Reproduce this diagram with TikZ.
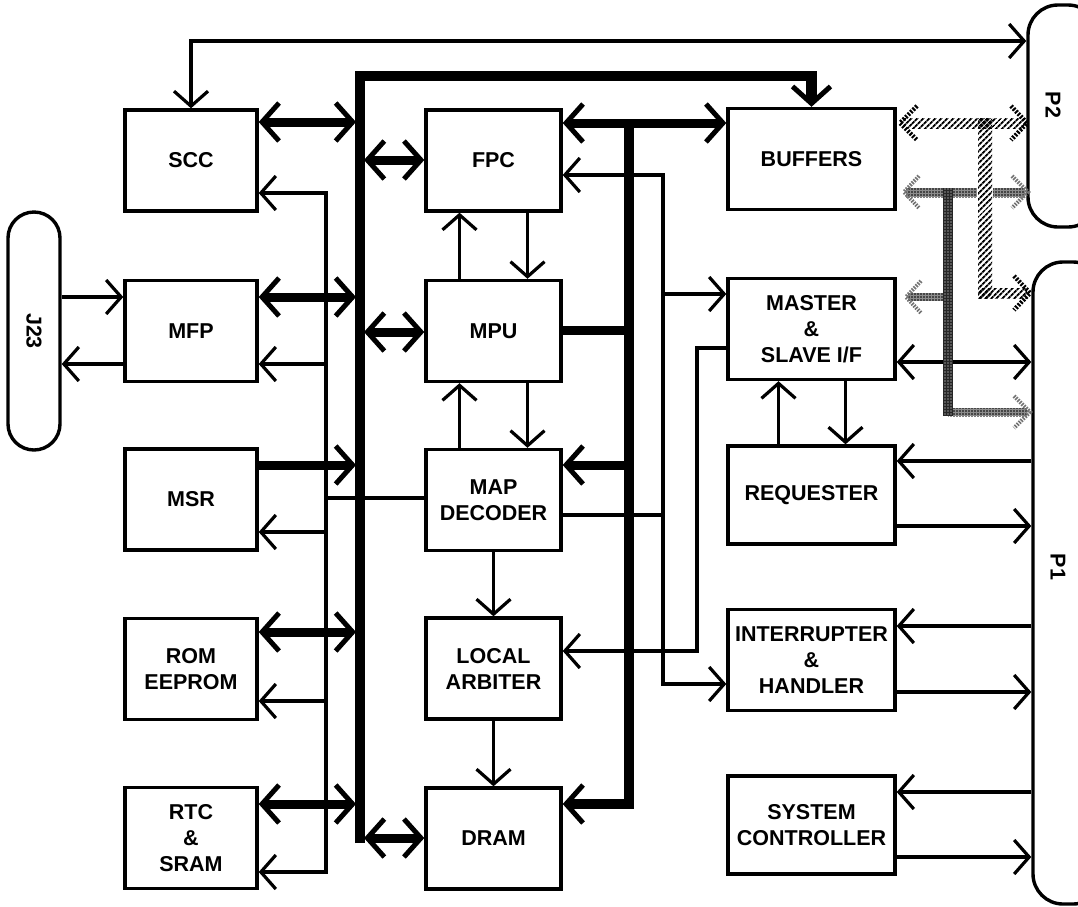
\documentclass[tikz,border=0pt]{standalone}
\usepackage{fontspec}
\setmainfont{Liberation Sans}
\usetikzlibrary{arrows.meta,patterns.meta}
\begin{document}
\begin{tikzpicture}[x=1pt,y=-1pt,
  txt/.style={font=\fontsize{21.5}{26}\selectfont\bfseries},
  box/.style={txt,draw,line width=3.4pt,minimum width=132pt,minimum height=101pt,align=center,inner sep=0pt},
  cbox/.style={box,minimum width=135pt},
  rbox/.style={box,minimum width=167pt},
  conn/.style={draw,line width=3.4pt,rounded corners=26pt},
  lab/.style={txt,rotate=-90},
  th/.style={line width=3.2pt,>={Straight Barb[length=15pt,width=34pt]}},
  tk/.style={line width=9pt,>={Straight Barb[length=17pt,width=38pt,line width=5pt]}},
  bus/.style={line width=10.5pt,>={Straight Barb[length=17pt,width=38pt,line width=5pt]}},
  hatch/.style={pattern={Lines[angle=45,distance=4pt,line width=2pt]}},
  hw/.style={line width=4.5pt,dash pattern=on 2pt off 1.5pt},
  stipv/.style={fill=black!85,postaction={pattern={Dots[distance=3pt,radius=0.7pt]},pattern color=white}},
  stiph/.style={fill=black!45,postaction={pattern={Dots[distance=3pt,radius=0.9pt]},pattern color=black}},
  sw/.style={line width=4pt,black!55,dash pattern=on 1.6pt off 1.2pt}]
\useasboundingbox (0,0) rectangle (1078,906);
\clip (0,0) rectangle (1078,906);

% left column
\node[box] (scc) at (191,160.5) {SCC};
\node[box] (mfp) at (191,331) {MFP};
\node[box] (msr) at (191,499.5) {MSR};
\node[box] (rom) at (191,669) {ROM\\EEPROM};
\node[box] (rtc) at (191,838) {RTC\\\&\\SRAM};
% centre column
\node[cbox] (fpc) at (493.5,160.5) {FPC};
\node[cbox] (mpu) at (493.5,331) {MPU};
\node[cbox] (map) at (493.5,500) {MAP\\DECODER};
\node[cbox] (loc) at (493.5,668.5) {LOCAL\\ARBITER};
\node[cbox] (dram) at (493.5,838.5) {DRAM};
% right column
\node[rbox] (buf) at (811.5,159) {BUFFERS};
\node[rbox] (mas) at (811.5,329) {MASTER\\\&\\SLAVE I/F};
\node[rbox,minimum height=98pt] (req) at (811.5,495) {REQUESTER};
\node[rbox] (int) at (811.5,660) {INTERRUPTER\\\&\\HANDLER};
\node[rbox,minimum height=98pt] (sys) at (811.5,825) {SYSTEM\\CONTROLLER};
% connectors
\node[conn,minimum width=52pt,minimum height=238pt] (j23) at (34,331) {};
\node[lab] (j23l) at (34,331) {J23};
\node[conn,rounded corners=30pt,minimum width=70pt,minimum height=222pt] (p2) at (1063,116) {};
\node[lab] (p2l) at (1053,105) {P2};
\node[conn,rounded corners=30pt,minimum width=70pt,minimum height=642pt] (p1) at (1068,583) {};
\node[lab] (p1l) at (1058,567) {P1};

% top thin line SCC - P2
\draw[th,<->] (scc.north) |- (p2.west |- 0,41);
% J23 - MFP
\draw[th,->] (j23.east |- 0,297) -- (mfp.west |- 0,297);
\draw[th,->] (mfp.west |- 0,364) -- (j23.east |- 0,364);
% left control line
\draw[th,<->] (scc.east |- 0,193) -| (326,872) -- (rtc.east |- 0,872);
\draw[th,->] (326,364) -- (mfp.east |- 0,364);
\draw[th,->] (326,532) -- (msr.east |- 0,532);
\draw[th,->] (326,701) -- (rom.east |- 0,701);
\draw[th] (326,498) -- (map.west |- 0,498);

% main bus
\draw[bus,->] (360,843) -- (360,76) -- (buf.north |- 0,76) -- (buf.north);
\draw[tk,<->] (scc.east |- 0,122) -- (356,122);
\draw[tk,<->] (mfp.east |- 0,297) -- (356,297);
\draw[tk,->] (msr.east |- 0,465) -- (356,465);
\draw[tk,<->] (rom.east |- 0,632) -- (356,632);
\draw[tk,<->] (rtc.east |- 0,804) -- (356,804);
\draw[tk,<->] (364,160) -- (fpc.west |- 0,160);
\draw[tk,<->] (364,332) -- (mpu.west |- 0,332);
\draw[tk,<->] (364,838) -- (dram.west |- 0,838);

% centre vertical arrows
\draw[th,->] ([xshift=-34pt]mpu.north) -- ([xshift=-34pt]fpc.south);
\draw[th,->] ([xshift=34pt]fpc.south) -- ([xshift=34pt]mpu.north);
\draw[th,->] ([xshift=-34pt]map.north) -- ([xshift=-34pt]mpu.south);
\draw[th,->] ([xshift=34pt]mpu.south) -- ([xshift=34pt]map.north);
\draw[th,->] (map.south) -- (loc.north);
\draw[th,->] (loc.south) -- (dram.north);

% second bus
\draw[tk,<->] (fpc.east |- 0,123) -- (buf.west |- 0,123);
\draw[bus,->] (629,119) -- (629,804) -- (dram.east |- 0,804);
\draw[tk] (mpu.east |- 0,330) -- (629,330);
\draw[tk,->] (629,465) -- (map.east |- 0,465);

% thin right lines
\draw[th,<->] (fpc.east |- 0,175) -| (663,684) -- (int.west |- 0,684);
\draw[th,->] (663,294) -- (mas.west |- 0,294);
\draw[th] (map.east |- 0,515) -- (663,515);
\draw[th,->] (mas.west |- 0,348) -| (697,651) -- (loc.east |- 0,651);

% right column arrows
\draw[th,->] ([xshift=-33pt]req.north) -- ([xshift=-33pt]mas.south);
\draw[th,->] ([xshift=34pt]mas.south) -- ([xshift=34pt]req.north);
\draw[th,<->] (mas.east |- 0,362) -- (p1.west |- 0,362);
\draw[th,->] (p1.west |- 0,461) -- (req.east |- 0,461);
\draw[th,->] (req.east |- 0,526) -- (p1.west |- 0,526);
\draw[th,->] (p1.west |- 0,626) -- (int.east |- 0,626);
\draw[th,->] (int.east |- 0,692) -- (p1.west |- 0,692);
\draw[th,->] (p1.west |- 0,792) -- (sys.east |- 0,792);
\draw[th,->] (sys.east |- 0,857) -- (p1.west |- 0,857);

% stippled bus
\fill[stiph] (906,188) rectangle (1025,197);
\fill[stiph] (908,293) rectangle (944,301);
\fill[stiph] (948,408) rectangle (1027,416);
\fill[stipv] (943,188) rectangle (953,416);
\draw[sw] (919,176) -- (904,192) -- (919,208);
\draw[sw] (1012,176) -- (1028,192) -- (1012,208);
\draw[sw] (921,281) -- (906,297) -- (921,313);
\draw[sw] (1014,396) -- (1030,412) -- (1014,428);

% hatched bus
\fill[white] (977,128) rectangle (993,298);
\fill[hatch] (903,118) rectangle (1025,128);
\fill[hatch] (978,118) rectangle (992,298);
\fill[hatch] (978,288) rectangle (1027,298);
\draw[hw] (917,106) -- (900,123) -- (917,140);
\draw[hw] (1011,106) -- (1027,123) -- (1011,140);
\draw[hw] (1014,276) -- (1030,293) -- (1014,310);
\end{tikzpicture}
\end{document}
